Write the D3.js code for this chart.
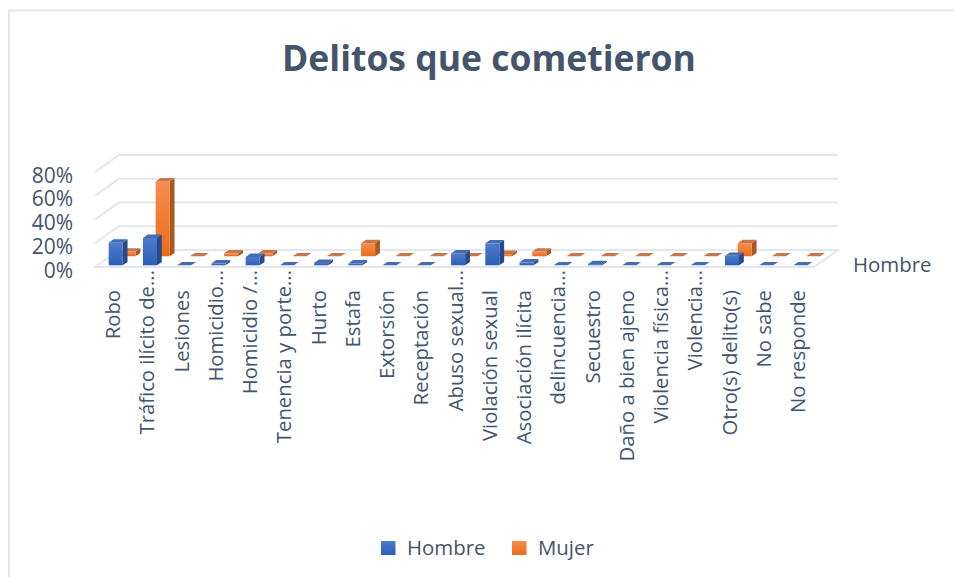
<!DOCTYPE html>
<html>
<head>
<meta charset="utf-8">
<script src="https://cdn.jsdelivr.net/npm/d3@7"></script>
<style>
    body { margin: 0; background: #fff; }
    text { font-family: "Open Sans", sans-serif; fill: #44546a; }
</style>
</head>
<body>
<div id="chart"></div>
<script>
// Data
const categories = ["Robo", "Tráfico ilícito de...", "Lesiones", "Homicidio...", "Homicidio /...",
    "Tenencia y porte...", "Hurto", "Estafa", "Extorsión", "Receptación", "Abuso sexual...",
    "Violación sexual", "Asociación ilícita", "delincuencia...", "Secuestro", "Daño a bien ajeno",
    "Violencia física...", "Violencia...", "Otro(s) delito(s)", "No sabe", "No responde"];
const hombre = [19, 23, 0, 1.5, 7, 0, 2, 1.5, 0, 0, 10, 18.5, 2.5, 0, 1, 0, 0, 0, 8, 0, 0];
const mujer = [4, 63, 0, 2.5, 2.5, 0, 0, 11, 0, 0, 0, 2, 4, 0, 0, 0, 0, 0, 11, 0, 0];
const yTicks = [0, 20, 40, 60, 80];

const width = 954, height = 577;

const svg = d3.select("#chart")
    .append("svg")
    .attr("width", width)
    .attr("height", height)
    .style("display", "block");

// Scales: band for the categories, linear for the value and for the oblique depth
const xScale = d3.scaleBand().domain(categories).range([95, 814]);
const yScale = d3.scaleLinear().domain([0, 80]).range([267, 172]);
const depthX = d3.scaleLinear().domain([0, 1]).range([0, 24]);
const depthY = d3.scaleLinear().domain([0, 1]).range([0, -17]);

const grid = "#e3e6ec";
const [floorLeft, floorRight] = xScale.range();

// Gradients of the bar fronts
const defs = svg.append("defs");
function gradient(id, top, bottom) {
    const g = defs.append("linearGradient").attr("id", id)
        .attr("x1", 0).attr("x2", 0).attr("y1", 0).attr("y2", 1);
    g.append("stop").attr("offset", "0%").attr("stop-color", top);
    g.append("stop").attr("offset", "100%").attr("stop-color", bottom);
}
gradient("frontHombre", "#4f7bcb", "#2b5fb5");
gradient("frontMujer", "#f68d4e", "#e96d17");

// Chart frame (cut by the screenshot on the right and bottom)
svg.append("path")
    .attr("d", `M9,${height} V10.5 H${width}`)
    .attr("fill", "none")
    .attr("stroke", grid)
    .attr("stroke-width", 2);

// Title
svg.append("text")
    .attr("x", 489)
    .attr("y", 71)
    .attr("text-anchor", "middle")
    .style("font-size", "35.5px")
    .style("font-weight", 700)
    .text("Delitos que cometieron");

// Walls: one bent line for each tick, the 0% one closes the floor
yTicks.forEach(t => {
    const y = yScale(t);
    const d = t === 0
        ? `M${floorLeft},${y} H${floorRight} L${floorRight + depthX(1)},${y + depthY(1)} H${floorLeft + depthX(1)} Z`
        : `M${floorLeft},${y} L${floorLeft + depthX(1)},${y + depthY(1)} H${floorRight + depthX(1)}`;
    svg.append("path")
        .attr("d", d)
        .attr("fill", "none")
        .attr("stroke", grid)
        .attr("stroke-width", 2);
});

// Value axis
const yAxis = svg.append("g")
    .attr("transform", `translate(${floorLeft - 22},0)`)
    .call(d3.axisLeft(yScale).tickValues(yTicks).tickSize(0).tickFormat(d => d + "%"));
yAxis.select(".domain").remove();
yAxis.attr("font-family", null);
yAxis.selectAll("text")
    .attr("x", 0)
    .attr("dy", "0.48em")
    .style("font-size", "21px");

// Bars as oblique boxes, back row first
function drawSeries(values, front, top, side, z0, z1) {
    const barOffset = xScale.bandwidth() * 0.33;
    const barWidth = xScale.bandwidth() * 0.41;
    const group = svg.append("g");

    values.forEach((v, i) => {
        const x0 = xScale(categories[i]) + barOffset + depthX(z0);
        const x1 = x0 + barWidth;
        const yBase = yScale(0) + depthY(z0);
        const yTop = yBase - (yScale(0) - yScale(v));
        const dx = depthX(z1 - z0);
        const dy = depthY(z1 - z0);

        if (v > 0) {
            group.append("polygon")
                .attr("points", [[x1, yBase], [x1 + dx, yBase + dy], [x1 + dx, yTop + dy], [x1, yTop]].join(" "))
                .attr("fill", side);
            group.append("rect")
                .attr("x", x0)
                .attr("y", yTop)
                .attr("width", barWidth)
                .attr("height", yBase - yTop)
                .attr("fill", front);
        }
        group.append("polygon")
            .attr("points", [[x0, yTop], [x1, yTop], [x1 + dx, yTop + dy], [x0 + dx, yTop + dy]].join(" "))
            .attr("fill", top);
    });
}
drawSeries(mujer, "url(#frontMujer)", "#c8774a", "#a9581f", 0.63, 0.83);
drawSeries(hombre, "url(#frontHombre)", "#456cb2", "#274a8c", 0.1, 0.3);

// Category labels, the "..." stands above the common text end
svg.append("g")
    .selectAll("text")
    .data(categories)
    .enter()
    .append("text")
    .attr("transform", d => {
        const x = xScale(d) + xScale.bandwidth() / 2 + 1;
        const y = d.endsWith("...") ? 270 : 290;
        return `translate(${x},${y}) rotate(-90)`;
    })
    .attr("text-anchor", "end")
    .attr("dy", "0.35em")
    .style("font-size", "20.3px")
    .text(d => d);

// Depth axis label
svg.append("text")
    .attr("x", 853)
    .attr("y", 272)
    .style("font-size", "20.4px")
    .text("Hombre");

// Legend
const legendItems = [
    { name: "Hombre", fill: "url(#frontHombre)", x: 381 },
    { name: "Mujer", fill: "url(#frontMujer)", x: 512 }
];
legendItems.forEach(d => {
    svg.append("rect")
        .attr("x", d.x)
        .attr("y", 541)
        .attr("width", 14.5)
        .attr("height", 14)
        .attr("fill", d.fill);
    svg.append("text")
        .attr("x", d.x + 26)
        .attr("y", 555)
        .style("font-size", "20.4px")
        .text(d.name);
});
</script>
</body>
</html>
